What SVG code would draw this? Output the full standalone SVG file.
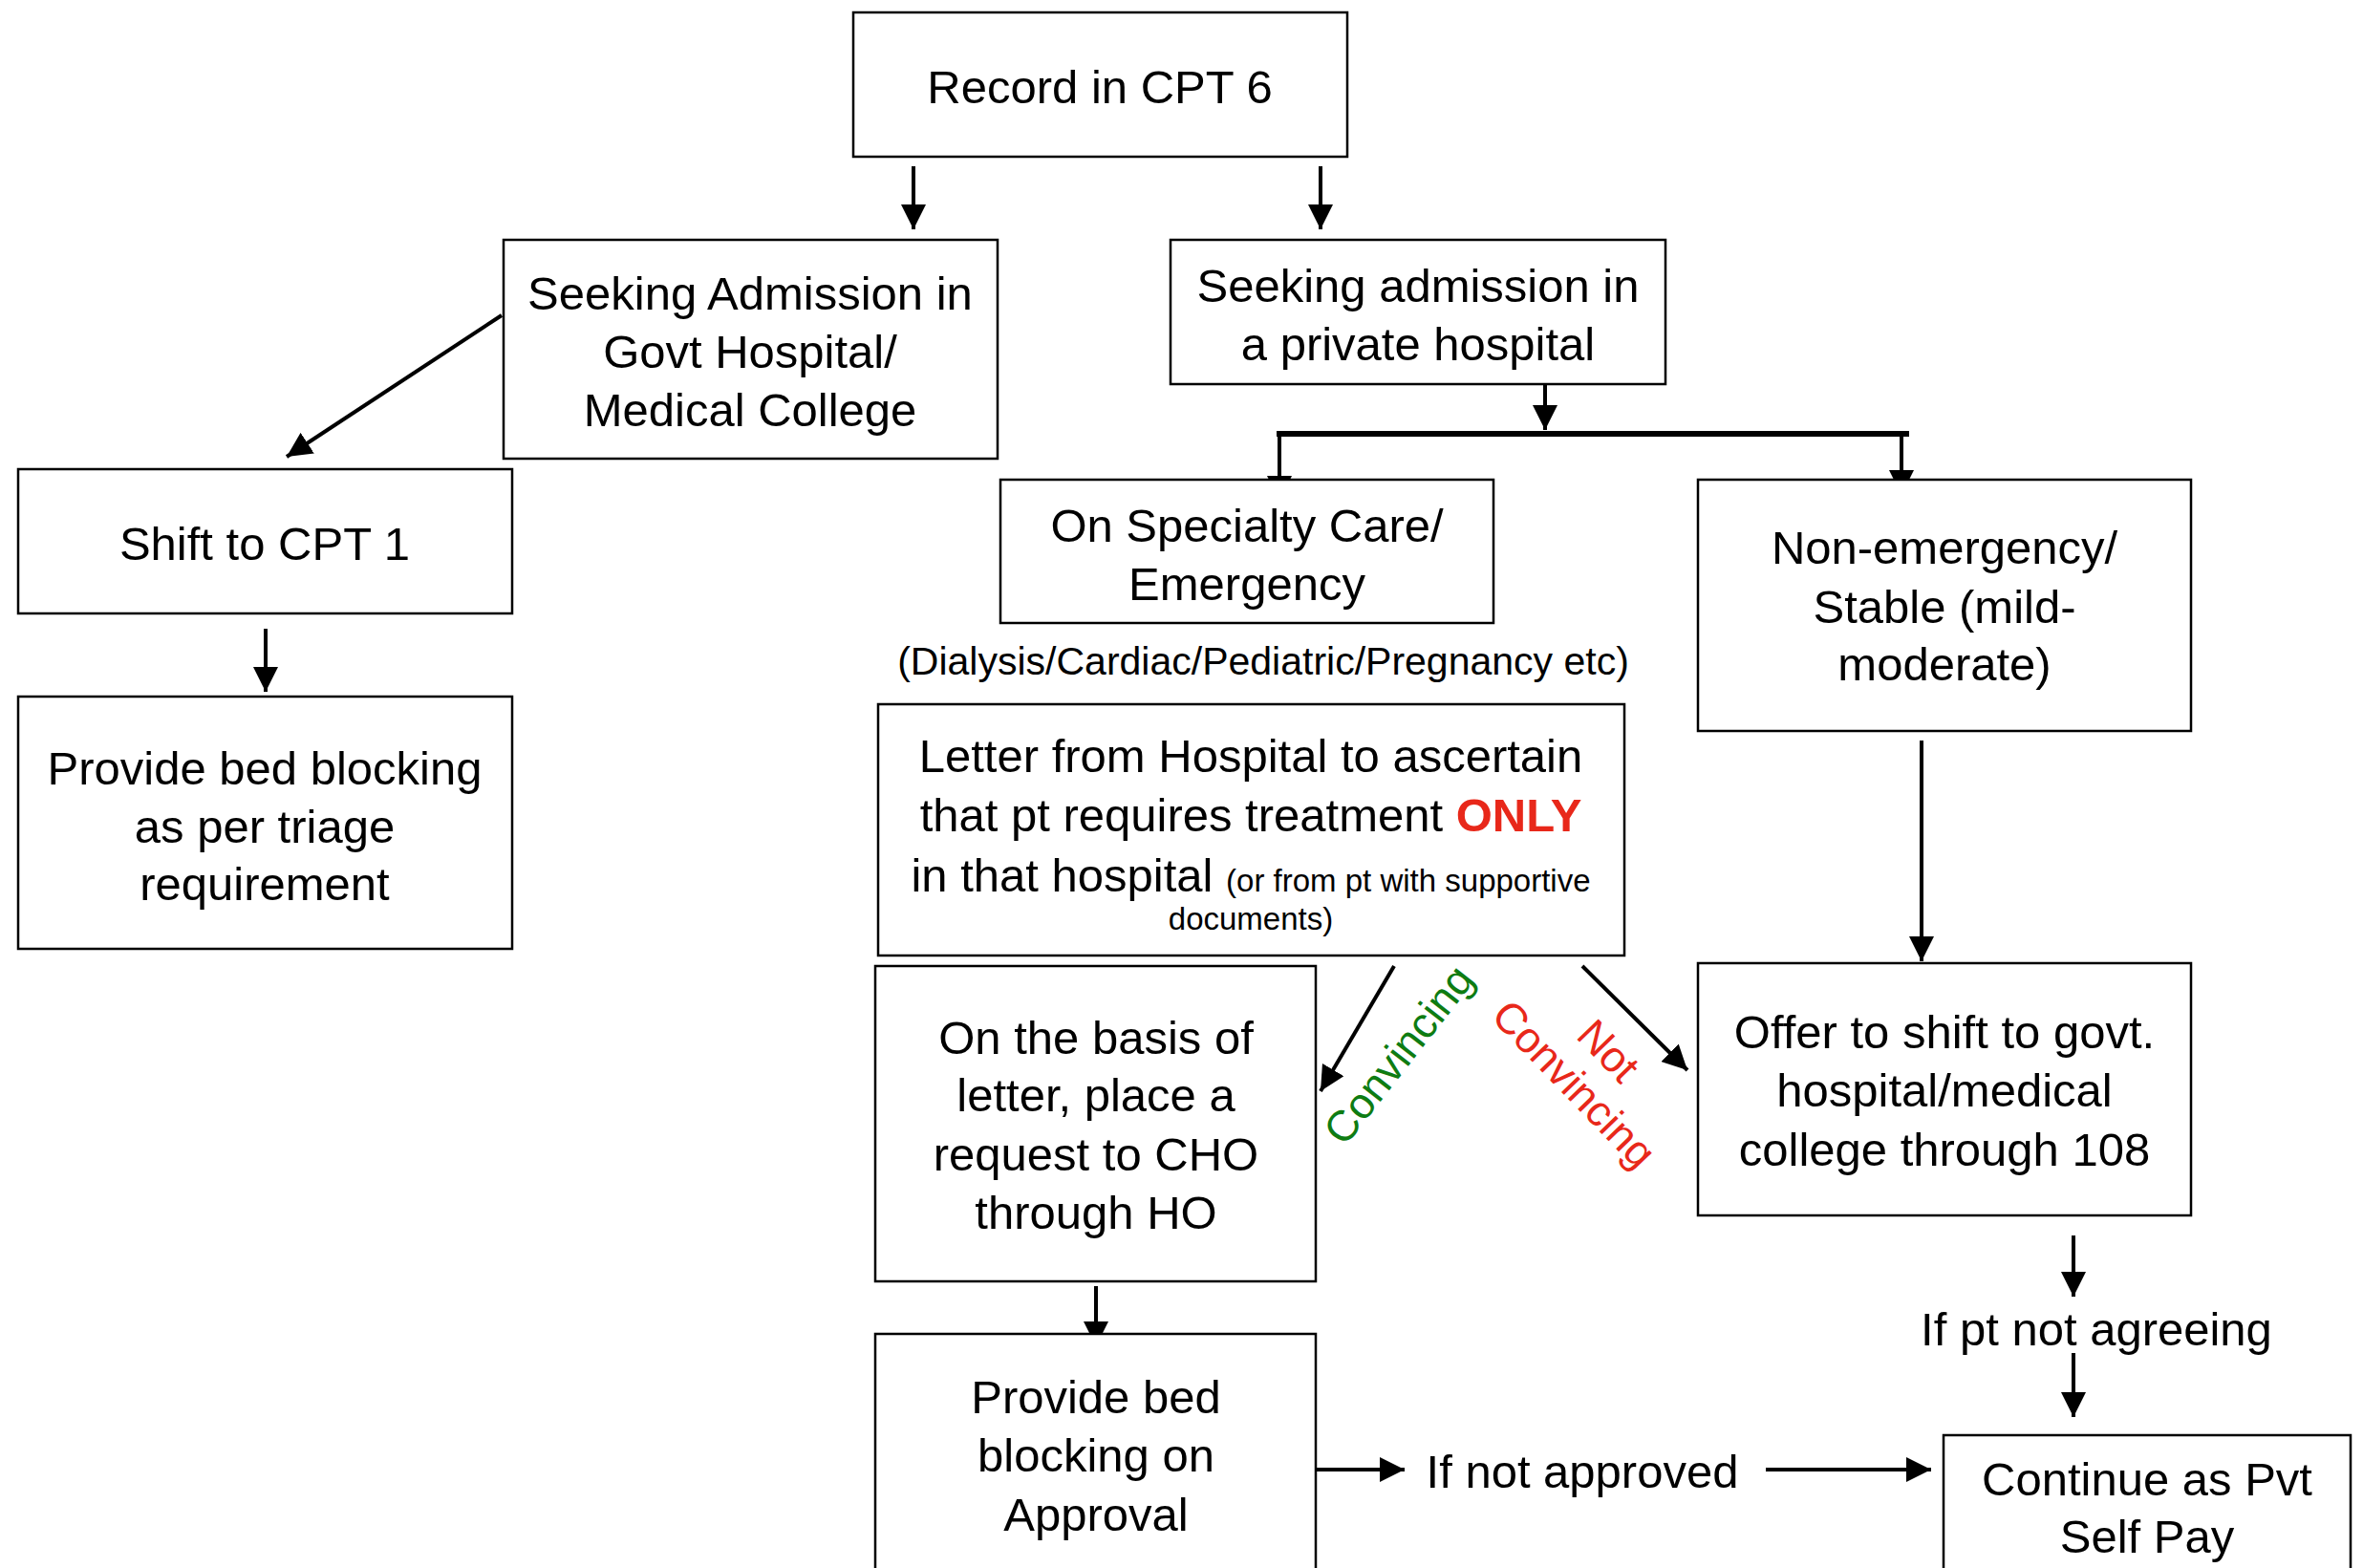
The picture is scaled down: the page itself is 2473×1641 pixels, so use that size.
<svg xmlns="http://www.w3.org/2000/svg" width="2473" height="1641" viewBox="0 0 2473 1641">
<style>
.box{fill:#fff;stroke:#000;stroke-width:2.5}
.t{font-family:"Liberation Sans",Arial,Helvetica,sans-serif;font-size:49px;fill:#000;text-anchor:middle}
.s{font-size:41px}
.sm{font-size:33px}
.c{stroke:#000;stroke-width:4;fill:none}
.lab{font-family:"Liberation Sans",Arial,Helvetica,sans-serif;font-size:45px;text-anchor:middle}
</style>
<defs>
<marker id="ah" markerUnits="userSpaceOnUse" markerWidth="26" markerHeight="26" refX="24" refY="12" orient="auto" viewBox="0 0 24 24">
<path d="M0,0 L24,12 L0,24 z" fill="#000"/>
</marker>
</defs>
<rect width="2473" height="1641" fill="#fff"/>

<g id="connectors">
<line class="c" x1="956" y1="174" x2="956" y2="240" marker-end="url(#ah)"/>
<line class="c" x1="1382" y1="174" x2="1382" y2="240" marker-end="url(#ah)"/>
<line class="c" x1="525" y1="330" x2="300" y2="478" marker-end="url(#ah)"/>
<line class="c" x1="278" y1="658" x2="278" y2="724" marker-end="url(#ah)"/>
<line class="c" x1="1617" y1="383" x2="1617" y2="450" marker-end="url(#ah)"/>
<line x1="1336" y1="454" x2="1998" y2="454" stroke="#000" stroke-width="6"/>
<line class="c" x1="1339" y1="454" x2="1339" y2="524" marker-end="url(#ah)"/>
<line class="c" x1="1990" y1="454" x2="1990" y2="518" marker-end="url(#ah)"/>
<line class="c" x1="2011" y1="775" x2="2011" y2="1006" marker-end="url(#ah)"/>
<line class="c" x1="1459" y1="1011" x2="1382" y2="1142" marker-end="url(#ah)"/>
<line class="c" x1="1656" y1="1011" x2="1766" y2="1120" marker-end="url(#ah)"/>
<line class="c" x1="1147" y1="1346" x2="1147" y2="1409" marker-end="url(#ah)"/>
<line class="c" x1="1366" y1="1538" x2="1470" y2="1538" stroke-width="5" marker-end="url(#ah)"/>
<line class="c" x1="1848" y1="1538" x2="2021" y2="1538" stroke-width="5" marker-end="url(#ah)"/>
<line class="c" x1="2170" y1="1293" x2="2170" y2="1357" marker-end="url(#ah)"/>
<line class="c" x1="2170" y1="1416" x2="2170" y2="1483" marker-end="url(#ah)"/>
</g>

<g id="record-cpt6">
<rect class="box" x="893" y="13" width="517" height="151"/>
<text class="t" x="1151" y="108">Record in CPT 6</text>
</g>

<g id="govt-hospital">
<rect class="box" x="527" y="251" width="517" height="229"/>
<text class="t" x="785" y="324">Seeking Admission in</text>
<text class="t" x="785" y="385">Govt Hospital/</text>
<text class="t" x="785" y="446">Medical College</text>
</g>

<g id="private-hospital">
<rect class="box" x="1225" y="251" width="518" height="151"/>
<text class="t" x="1484" y="316">Seeking admission in</text>
<text class="t" x="1484" y="377">a private hospital</text>
</g>

<g id="shift-cpt1">
<rect class="box" x="19" y="491" width="517" height="151"/>
<text class="t" x="277" y="586">Shift to CPT 1</text>
</g>

<g id="bed-triage">
<rect class="box" x="19" y="729" width="517" height="264"/>
<text class="t" x="277" y="821">Provide bed blocking</text>
<text class="t" x="277" y="882">as per triage</text>
<text class="t" x="277" y="942">requirement</text>
</g>

<g id="specialty-care">
<rect class="box" x="1047" y="502" width="516" height="150"/>
<text class="t" x="1305" y="567">On Specialty Care/</text>
<text class="t" x="1305" y="628">Emergency</text>
</g>

<g id="specialty-note">
<text class="t s" x="1322" y="706">(Dialysis/Cardiac/Pediatric/Pregnancy etc)</text>
</g>

<g id="non-emergency">
<rect class="box" x="1777" y="502" width="516" height="263"/>
<text class="t" x="2035" y="590">Non-emergency/</text>
<text class="t" x="2035" y="652">Stable (mild-</text>
<text class="t" x="2035" y="712">moderate)</text>
</g>

<g id="letter">
<rect class="box" x="919" y="737" width="781" height="263"/>
<text class="t" x="1309" y="808">Letter from Hospital to ascertain</text>
<text class="t" x="1309" y="870">that pt requires treatment <tspan fill="#E8281A" font-weight="bold">ONLY</tspan></text>
<text class="t" x="1309" y="933">in that hospital <tspan class="sm">(or from pt with supportive</tspan></text>
<text class="t sm" x="1309" y="973">documents)</text>
</g>

<g id="cho-request">
<rect class="box" x="916" y="1011" width="461" height="330"/>
<text class="t" x="1147" y="1103">On the basis of</text>
<text class="t" x="1147" y="1163">letter, place a</text>
<text class="t" x="1147" y="1225">request to CHO</text>
<text class="t" x="1147" y="1286">through HO</text>
</g>

<g id="offer-shift">
<rect class="box" x="1777" y="1008" width="516" height="264"/>
<text class="t" x="2035" y="1097">Offer to shift to govt.</text>
<text class="t" x="2035" y="1158">hospital/medical</text>
<text class="t" x="2035" y="1220">college through 108</text>
</g>

<g id="bed-approval">
<rect class="box" x="916" y="1396" width="461" height="280"/>
<text class="t" x="1147" y="1479">Provide bed</text>
<text class="t" x="1147" y="1540">blocking on</text>
<text class="t" x="1147" y="1602">Approval</text>
</g>

<g id="pvt-self-pay">
<rect class="box" x="2034" y="1502" width="426" height="180"/>
<text class="t" x="2247" y="1565">Continue as Pvt</text>
<text class="t" x="2247" y="1625">Self Pay</text>
</g>

<g id="labels">
<text class="t" x="2194" y="1408">If pt not agreeing</text>
<text class="t" x="1656" y="1557">If not approved</text>
<g transform="translate(1464,1104) rotate(-52)">
<text class="lab" x="0" y="15" fill="#0E7C12">Convincing</text>
</g>
<g transform="translate(1683,1100) rotate(46)">
<text class="lab" x="0" y="15" fill="#E8281A">Not</text>
<text class="lab" x="0" y="65" fill="#E8281A">Convincing</text>
</g>
</g>
</svg>
